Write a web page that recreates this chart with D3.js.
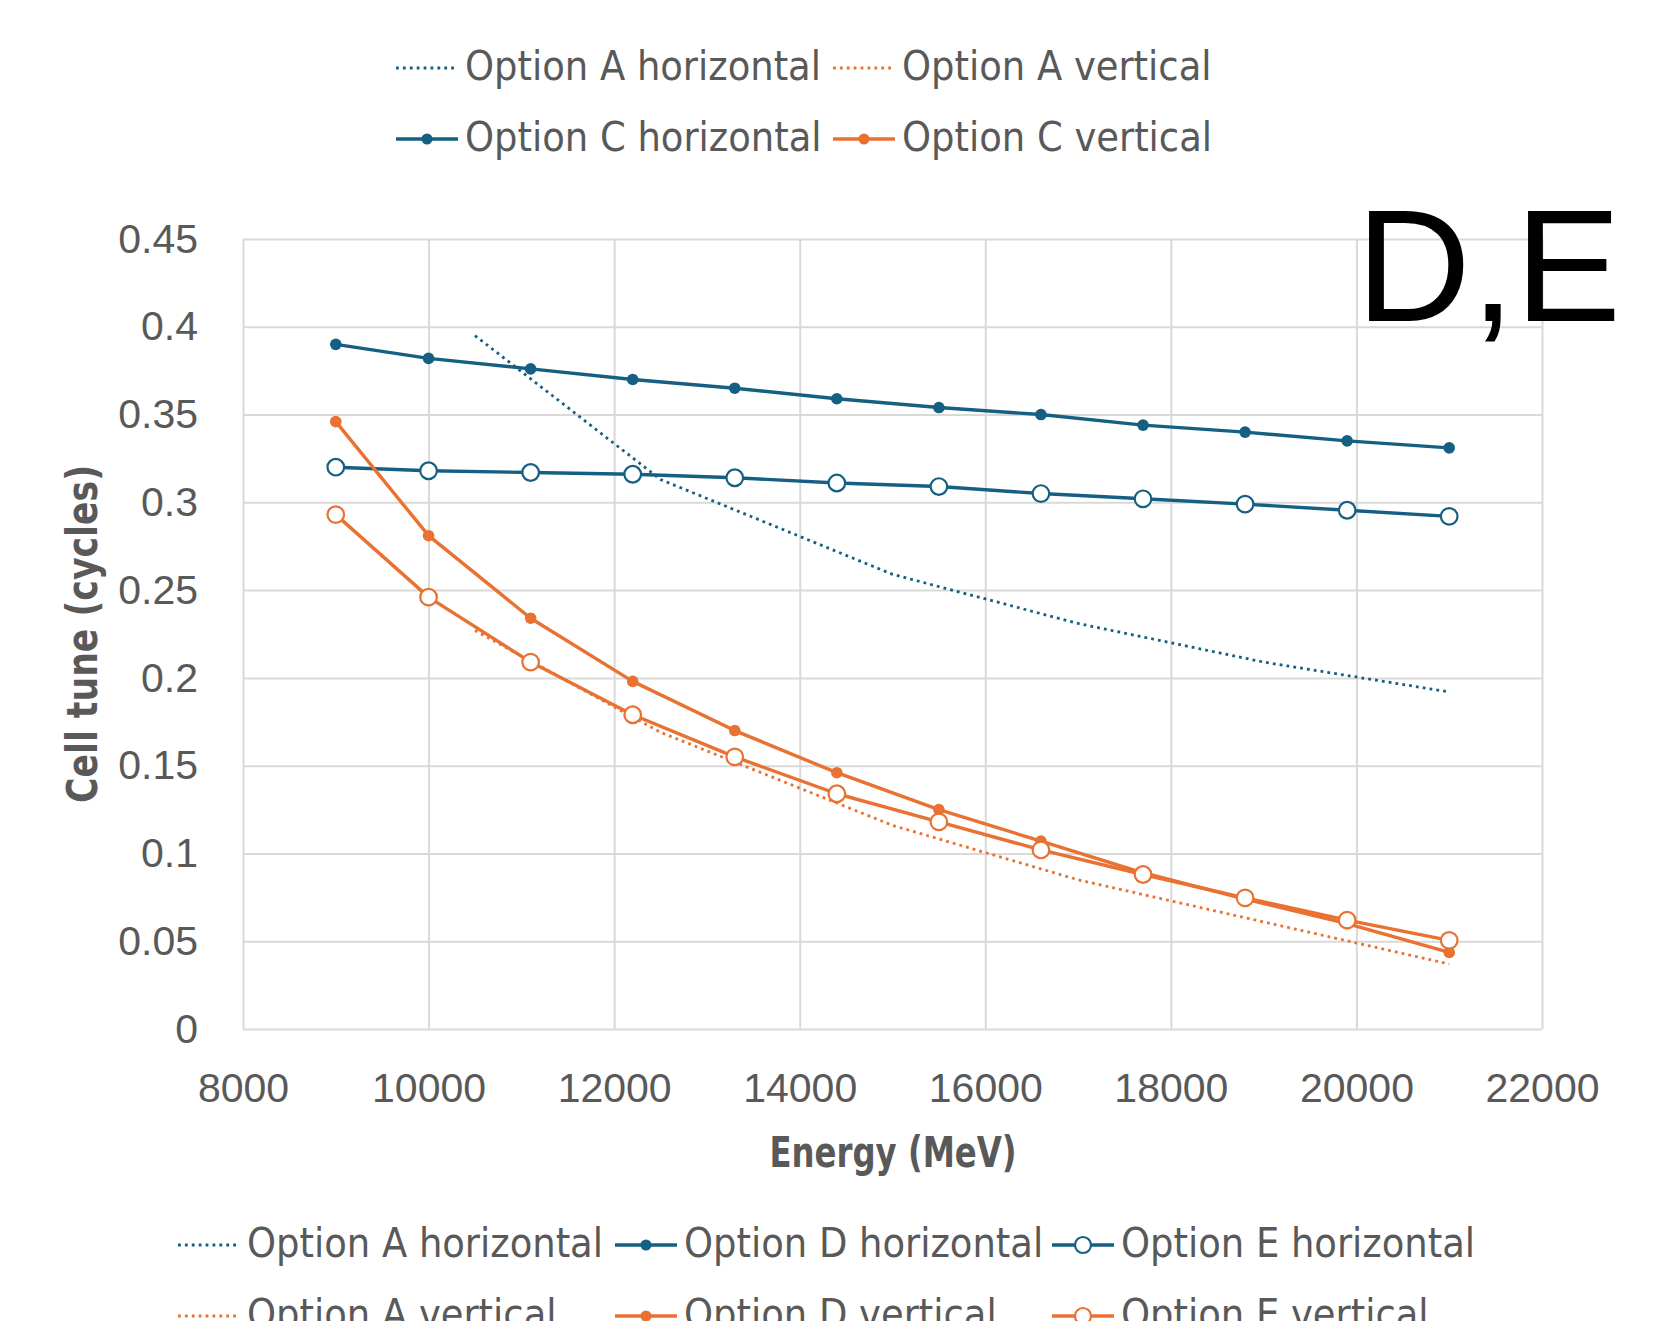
<!DOCTYPE html>
<html>
<head>
<meta charset="utf-8">
<script src="https://cdn.jsdelivr.net/npm/d3@7"></script>
<style>
  body { margin: 0; background: #fff; }
</style>
</head>
<body>
<div class="canva"></div>
<script>
// energies (MeV) for options D and E
const energy = [9000, 10000, 11100, 12200, 13300, 14400, 15500, 16600, 17700, 18800, 19900, 21000];
const optionDHorizontal = [0.390, 0.382, 0.376, 0.370, 0.365, 0.359, 0.354, 0.350, 0.344, 0.340, 0.335, 0.331];
const optionEHorizontal = [0.320, 0.318, 0.317, 0.316, 0.314, 0.311, 0.309, 0.305, 0.302, 0.299, 0.2955, 0.292];
const optionDVertical = [0.346, 0.281, 0.234, 0.198, 0.170, 0.146, 0.125, 0.107, 0.089, 0.074, 0.060, 0.0436];
const optionEVertical = [0.293, 0.246, 0.209, 0.179, 0.155, 0.134, 0.118, 0.102, 0.088, 0.0747, 0.062, 0.0505];

// option A reference curves (fewer points)
const energyA = [10500, 12500, 15000, 17000, 19000, 21000];
const optionAHorizontal = [0.395, 0.313, 0.259, 0.231, 0.209, 0.192];
const optionAVertical = [0.227, 0.169, 0.116, 0.085, 0.061, 0.037];

const xTicks = [8000, 10000, 12000, 14000, 16000, 18000, 20000, 22000];
const yTicks = [0, 0.05, 0.1, 0.15, 0.2, 0.25, 0.3, 0.35, 0.4, 0.45];

const blue = "#156082";
const orange = "#E97132";
const grey = "#595959";
const tickFont = '"Liberation Sans", Arial, sans-serif';
const narrowFont = '"Liberation Sans Narrow", "DejaVu Sans Condensed", "Roboto Condensed", "Liberation Sans", sans-serif';

const svg = d3.select(".canva").append("svg")
  .attr("width", 1665)
  .attr("height", 1321);

const plot = {left: 243, right: 1542, top: 239, bottom: 1029};

const x = d3.scaleLinear().domain([8000, 22000]).range([plot.left, plot.right]);
const y = d3.scaleLinear().domain([0, 0.45]).range([plot.bottom, plot.top]);

// gridlines + axes
const yAxis = d3.axisLeft(y)
  .tickValues(yTicks)
  .tickSize(-(plot.right - plot.left))
  .tickPadding(45)
  .tickFormat(d => String(+d.toFixed(2)));
const xAxis = d3.axisBottom(x)
  .tickValues(xTicks)
  .tickSize(-(plot.bottom - plot.top))
  .tickPadding(44)
  .tickFormat(d3.format("d"));

const gy = svg.append("g").attr("transform", `translate(${plot.left},0)`).call(yAxis);
const gx = svg.append("g").attr("transform", `translate(0,${plot.bottom})`).call(xAxis);

[gx, gy].forEach(g => {
  g.select(".domain").remove();
  g.selectAll(".tick line").attr("stroke", "#d9d9d9").attr("stroke-width", 2);
  g.selectAll(".tick text")
    .attr("fill", grey)
    .style("font-family", tickFont)
    .style("font-size", "41px");
});

// series
const series = [
  {xs: energyA, ys: optionAHorizontal, color: blue, kind: "dot"},
  {xs: energy, ys: optionDHorizontal, color: blue, kind: "filled"},
  {xs: energy, ys: optionEHorizontal, color: blue, kind: "open"},
  {xs: energyA, ys: optionAVertical, color: orange, kind: "dot"},
  {xs: energy, ys: optionDVertical, color: orange, kind: "filled"},
  {xs: energy, ys: optionEVertical, color: orange, kind: "open"}
];

const line = d3.line().x(d => x(d[0])).y(d => y(d[1]));

series.forEach(s => {
  const pts = d3.zip(s.xs, s.ys);
  const path = svg.append("path")
    .datum(pts)
    .attr("fill", "none")
    .attr("stroke", s.color)
    .attr("d", line);
  if (s.kind == "dot") {
    path.attr("stroke-width", 2.8).attr("stroke-dasharray", "2.8,4.1");
  } else {
    path.attr("stroke-width", 3.4).attr("stroke-linejoin", "round");
    svg.selectAll(null)
      .data(pts)
      .enter()
      .append("circle")
      .attr("cx", d => x(d[0]))
      .attr("cy", d => y(d[1]))
      .attr("r", s.kind == "filled" ? 5.8 : 8.3)
      .attr("fill", s.kind == "filled" ? s.color : "#fff")
      .attr("stroke", s.color)
      .attr("stroke-width", s.kind == "filled" ? 0 : 2.2);
  }
});

// axis titles
svg.append("text")
  .attr("x", 893).attr("y", 1167)
  .attr("text-anchor", "middle")
  .attr("fill", grey)
  .style("font-family", narrowFont).style("font-size", "42px").style("font-weight", "bold")
  .attr("textLength", 247).attr("lengthAdjust", "spacingAndGlyphs")
  .text("Energy (MeV)");

svg.append("text")
  .attr("transform", "rotate(-90)")
  .attr("x", -634).attr("y", 97)
  .attr("text-anchor", "middle")
  .attr("fill", grey)
  .style("font-family", narrowFont).style("font-size", "42px").style("font-weight", "bold")
  .attr("textLength", 338).attr("lengthAdjust", "spacingAndGlyphs")
  .text("Cell tune (cycles)");

// big panel label
svg.append("text")
  .attr("x", 1356).attr("y", 321)
  .attr("fill", "#000")
  .style("font-family", tickFont).style("font-size", "159px")
  .text("D,E");

// legends
const topLegend = [
  {name: "Option A horizontal", color: blue, kind: "dot", col: 0, row: 0},
  {name: "Option A vertical", color: orange, kind: "dot", col: 1, row: 0},
  {name: "Option C horizontal", color: blue, kind: "filled", col: 0, row: 1},
  {name: "Option C vertical", color: orange, kind: "filled", col: 1, row: 1}
];
const bottomLegend = [
  {name: "Option A horizontal", color: blue, kind: "dot", col: 0, row: 0},
  {name: "Option D horizontal", color: blue, kind: "filled", col: 1, row: 0},
  {name: "Option E horizontal", color: blue, kind: "open", col: 2, row: 0},
  {name: "Option A vertical", color: orange, kind: "dot", col: 0, row: 1},
  {name: "Option D vertical", color: orange, kind: "filled", col: 1, row: 1},
  {name: "Option E vertical", color: orange, kind: "open", col: 2, row: 1}
];

function drawLegend(items, colX, rowY) {
  const g = svg.append("g");
  const texts = [];
  items.forEach(it => {
    const sx = colX[it.col], sy = rowY[it.row];
    const l = g.append("line")
      .attr("x1", sx).attr("x2", sx + 62)
      .attr("y1", sy).attr("y2", sy)
      .attr("stroke", it.color);
    if (it.kind == "dot") {
      l.attr("stroke-width", 2.8).attr("stroke-dasharray", "2.8,4.1");
    } else {
      l.attr("stroke-width", 3.4);
      g.append("circle")
        .attr("cx", sx + 31).attr("cy", sy)
        .attr("r", it.kind == "filled" ? 5.5 : 8)
        .attr("fill", it.kind == "filled" ? it.color : "#fff")
        .attr("stroke", it.color).attr("stroke-width", it.kind == "filled" ? 0 : 2.2);
    }
    const t = g.append("text")
      .attr("x", sx + 69).attr("y", sy + 12)
      .attr("fill", grey)
      .style("font-family", narrowFont).style("font-size", "41px")
      .text(it.name);
    texts.push(t);
  });
  // squeeze to the narrow look of the original
  const ref = texts[0].node().getComputedTextLength();
  const ratio = 356 / ref;
  texts.forEach(t => {
    t.attr("textLength", t.node().getComputedTextLength() * ratio)
     .attr("lengthAdjust", "spacingAndGlyphs");
  });
}

drawLegend(topLegend, [396, 833], [68, 139]);
drawLegend(bottomLegend, [178, 615, 1052], [1245, 1316]);
</script>
</body>
</html>
